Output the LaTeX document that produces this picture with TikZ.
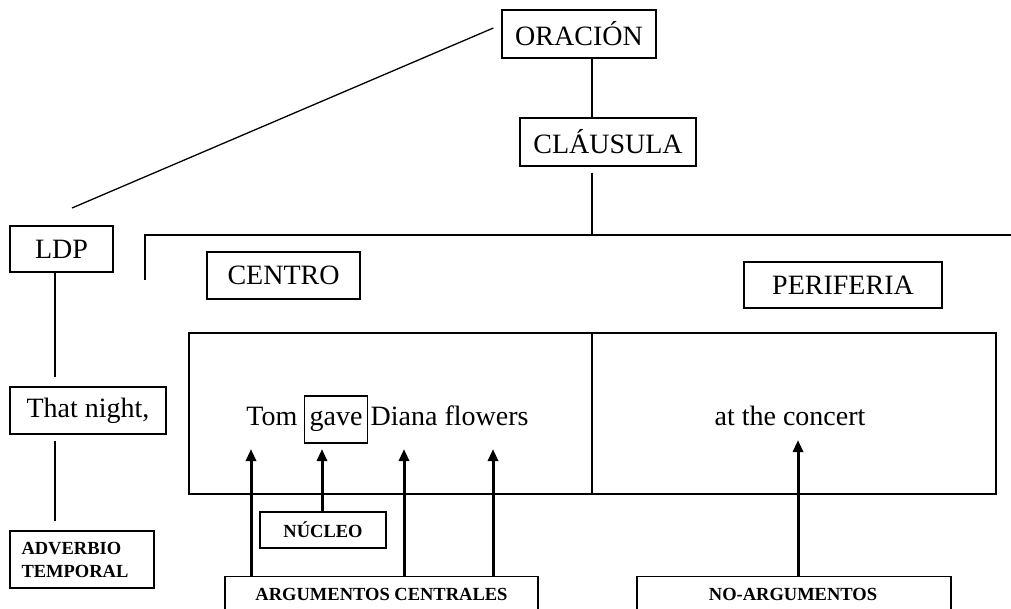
\documentclass[tikz,border=0pt]{standalone}
\usepackage{fontspec}
\setmainfont{Liberation Serif}
\usetikzlibrary{arrows.meta}
\begin{document}
\begin{tikzpicture}[x=1pt,y=-1pt,
  line width=1.3pt,
  big/.style={font=\fontsize{28}{32}\selectfont},
  small/.style={font=\bfseries\fontsize{18.5}{23}\selectfont},
  box/.style={draw, line width=1.3pt, inner sep=0pt, minimum width=#1},
  plain/.style={inner sep=0pt},
  arr/.style={line width=3pt, -{Triangle[width=10pt,length=12pt]}}
]
\useasboundingbox (0,0) rectangle (1011,608);

% upper levels
\node[box=154, minimum height=48, big] (orac) at (579,34) {ORACIÓN};
\node[box=176, minimum height=48, big] (claus) at (608,142) {CLÁUSULA};
\node[box=103, minimum height=46, big] (ldp) at (61.5,249) {LDP};
\node[box=153, minimum height=47, big] (centro) at (283.5,275.5) {CENTRO};
\node[box=198, minimum height=46, big] (perif) at (843,285) {PERIFERIA};

% guide coordinates
\coordinate (stem) at (592,235);
\coordinate (ldpend) at (72,208);
\coordinate (bl) at (145,280);
\coordinate (br) at (1011,235);
\coordinate (lx) at (55,0);

\draw ([xshift=-8pt,yshift=6pt]orac.west) -- (ldpend);
\draw (orac.south -| stem) -- (claus.north -| stem);
\draw ([yshift=-6pt]claus.south -| stem) -- (stem);
\draw (bl) -- (bl |- br) -- (br);

% left column
\node[box=156, minimum height=47, big] (night) at (88,410.5) {That night,};
\node[box=144, minimum height=57, small, align=left, text width=121pt] (adv) at (82,559.5) {ADVERBIO\\TEMPORAL};
\draw (ldp.south -| lx) -- ([yshift=9pt]night.north -| lx);
\draw ([yshift=-6pt]night.south -| lx) -- ([yshift=9pt]adv.north -| lx);

% core and periphery boxes
\node[draw, line width=1.3pt, minimum width=403pt, minimum height=161pt, inner sep=0pt] (core) at (390.5,413.5) {};
\node[draw, line width=1.3pt, minimum width=404pt, minimum height=161pt, inner sep=0pt] (peri) at (794,413.5) {};

% sentence
\node[draw, line width=1.3pt, big, inner xsep=5pt, inner ysep=0pt, text height=29pt, text depth=18pt, anchor=base] (gave) at (336,425) {gave};
\node[plain, big, anchor=base east] (tom) at ([xshift=-6pt]gave.base west) {Tom};
\node[plain, big, anchor=base west] (diana) at ([xshift=2pt]gave.base east) {Diana flowers};
\node[plain, big, anchor=base] (conc) at (790,425) {at the concert};

% labels below
\node[box=126, minimum height=36, small] (nucleo) at (323,530) {NÚCLEO};
\node[draw, line width=1.3pt, minimum width=313pt, minimum height=40pt, inner sep=0pt, anchor=north] (argc) at (381.5,576) {};
\node[plain, small, anchor=base] (argt) at (381.5,600) {ARGUMENTOS CENTRALES};
\node[draw, line width=1.3pt, minimum width=314pt, minimum height=40pt, inner sep=0pt, anchor=north] (noarg) at (794,576) {};
\node[plain, small, anchor=base] (noargt) at (793,600) {NO-ARGUMENTOS};

% arrows
\coordinate (t1) at (251,449);
\coordinate (t2) at (322,449);
\coordinate (t3) at (404,449);
\coordinate (t4) at (493,449);
\coordinate (t5) at (798,440);
\draw[arr] (argc.north -| t1) -- (t1);
\draw[arr] (nucleo.north -| t2) -- (t2);
\draw[arr] (argc.north -| t3) -- (t3);
\draw[arr] (argc.north -| t4) -- (t4);
\draw[arr] (noarg.north -| t5) -- (t5);
\end{tikzpicture}
\end{document}
